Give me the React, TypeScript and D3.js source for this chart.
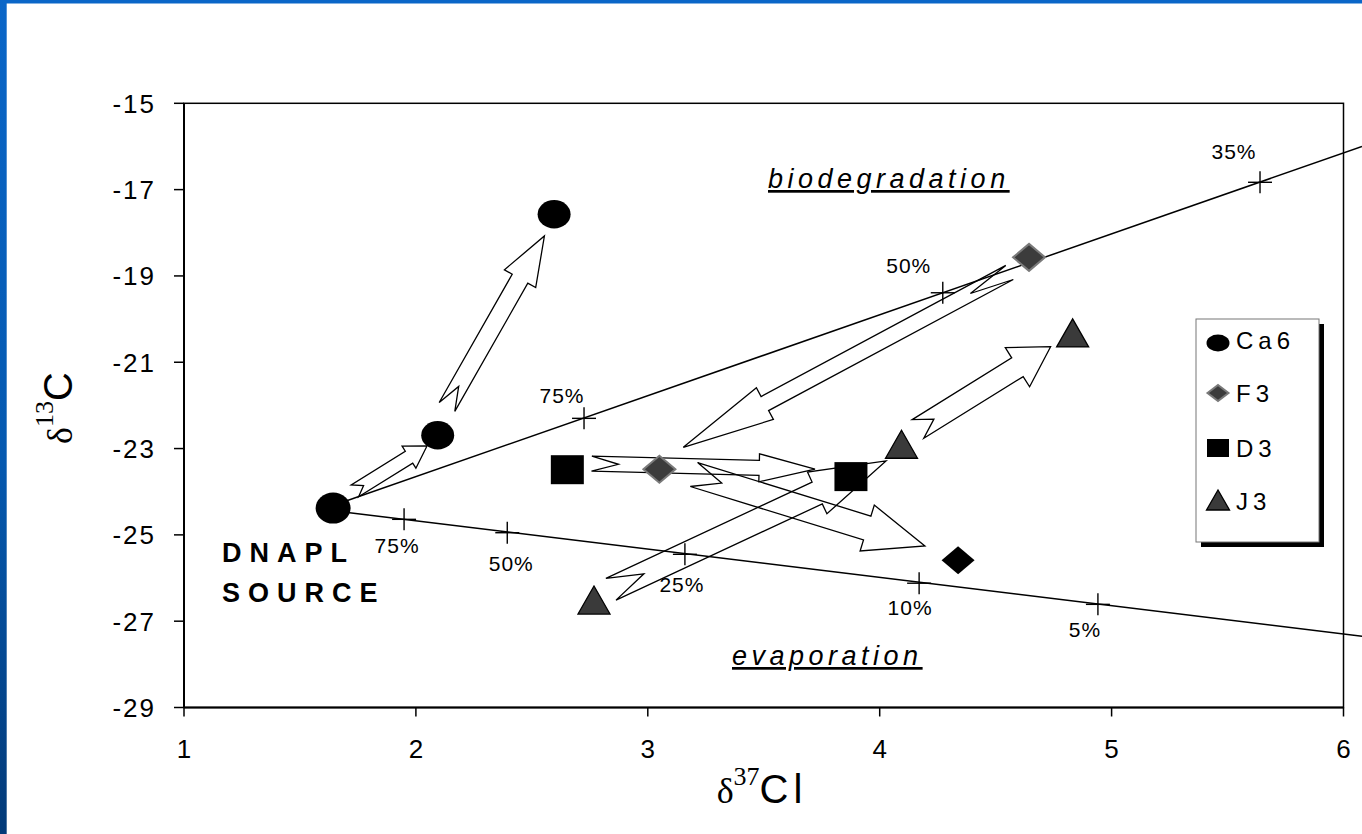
import React from 'react';
import * as d3 from 'd3';

// sample points (δ37Cl, δ13C)
const ca6 = [[1.643, -24.38], [2.094, -22.69], [2.596, -17.57]];
const f3 = [[4.644, -18.57], [3.05, -23.48]];
const d3pts = [[2.653, -23.49], [3.876, -23.65]];
const j3 = [[4.832, -20.32], [4.094, -22.9], [2.768, -26.51]];
const blackDiamond = [[4.338, -25.59]];

// model lines from the DNAPL source
const bioLine = [[1.643, -24.32], [6.08, -16.0]];
const evapLine = [[1.643, -24.44], [6.08, -27.35]];

// percent marks on the lines
const bioMarks = [[2.725, -22.3], [4.272, -19.39], [5.64, -16.83]];
const bioLabels = ['75%', '50%', '35%'];
const evapMarks = [[1.949, -24.64], [2.394, -24.95], [3.16, -25.45], [4.17, -26.12], [4.941, -26.61]];
const evapLabels = ['75%', '50%', '25%', '10%', '5%'];

// block arrows: tail -> tip
const arrowFrom = [[1.737, -23.98], [2.134, -22.035], [4.56, -18.92], [4.165, -22.545], [2.841, -26.26], [2.758, -23.35], [3.199, -23.603]];
const arrowTo = [[2.048, -22.94], [2.554, -18.074], [3.153, -22.97], [4.737, -20.64], [4.027, -23.286], [3.721, -23.478], [4.195, -25.255]];

const xTicks = [1, 2, 3, 4, 5, 6];
const yTicks = [-15, -17, -19, -21, -23, -25, -27, -29];
const legendNames = ['Ca6', 'F3', 'D3', 'J3'];

// styling (px)
const arrowHead = [13, 18, 18, 23, 23, 14, 24];
const arrowShaft = [7, 9, 8, 11, 12, 7.5, 12.5];
const bioNudge = [[-22, -15], [-34, -20], [-26, -23]];
const evapNudge = [[-7, 34], [4, 38], [-3, 38], [-9, 32], [-13, 33]];

const SANS = 'Arial, "Liberation Sans", sans-serif';
const SERIF = '"Times New Roman", "Liberation Serif", serif';

function arrowPath(tx: number, ty: number, hx: number, hy: number, hw: number, sw: number) {
  const dx = hx - tx, dy = hy - ty;
  const L = Math.hypot(dx, dy);
  const ux = dx / L, uy = dy / L;
  const nx = -uy, ny = ux;
  const hl = L * 0.25, nd = L * 0.12;
  const bx = tx + ux * (L - hl), by = ty + uy * (L - hl);
  const pts = [
    [tx + nx * sw, ty + ny * sw],
    [bx + nx * sw, by + ny * sw],
    [bx + nx * hw, by + ny * hw],
    [hx, hy],
    [bx - nx * hw, by - ny * hw],
    [bx - nx * sw, by - ny * sw],
    [tx - nx * sw, ty - ny * sw],
    [tx + ux * nd, ty + uy * nd],
  ];
  return 'M' + pts.map(p => p[0].toFixed(1) + ',' + p[1].toFixed(1)).join('L') + 'Z';
}

function Ellipse({ cx, cy, rx, ry }: any) {
  return <ellipse cx={cx} cy={cy} rx={rx} ry={ry} fill="#000" />;
}
function Diamond({ cx, cy, w, h, fill, stroke }: any) {
  return <path d={`M${cx - w},${cy}L${cx},${cy - h}L${cx + w},${cy}L${cx},${cy + h}Z`} fill={fill} stroke={stroke} strokeWidth={stroke === 'none' ? 0 : 2} />;
}
function Square({ cx, cy, w, h }: any) {
  return <rect x={cx - w} y={cy - h} width={w * 2} height={h * 2} fill="#000" />;
}
function Triangle({ cx, cy, w, h }: any) {
  return <path d={`M${cx - w},${cy + h}L${cx},${cy - h}L${cx + w},${cy + h}Z`} fill="#3a3a3a" stroke="#000" strokeWidth={1.3} />;
}

function Cross({ cx, cy }: any) {
  return (
    <g stroke="#000" strokeWidth={1.4}>
      <line x1={cx - 12} x2={cx + 12} y1={cy} y2={cy} />
      <line x1={cx} x2={cx} y1={cy - 11} y2={cy + 11} />
    </g>
  );
}

export default function App() {
  const W = 1362, H = 834;
  const x = d3.scaleLinear().domain([1, 6]).range([184, 1343.5]);
  const y = d3.scaleLinear().domain([-29, -15]).range([707.5, 103.3]);
  const line = d3.line<number[]>().x(d => x(d[0])).y(d => y(d[1]));

  const legendY = [343, 393, 448, 500];
  const legendBase = [349, 402, 457, 510];

  return (
    <div style={{ position: 'absolute', left: 0, top: 0 }}>
      <svg width={W} height={H} style={{ display: 'block', background: '#fff' }}>
        <defs>
          <linearGradient id="edge" x1="0" y1="0" x2="0" y2="1">
            <stop offset="0" stopColor="#0a66c8" />
            <stop offset="0.55" stopColor="#0559b0" />
            <stop offset="1" stopColor="#033a78" />
          </linearGradient>
        </defs>
        <rect x={0} y={0} width={W} height={H} fill="#fff" />
        <rect x={0} y={0} width={W} height={3.5} fill="#0a66c8" />
        <rect x={0} y={0} width={6.7} height={H} fill="url(#edge)" />

        {/* plot frame */}
        <rect x={x(1)} y={y(-15)} width={x(6) - x(1)} height={y(-29) - y(-15)} fill="none" stroke="#000" strokeWidth={1.5} />
        <line x1={x(1)} x2={x(1)} y1={y(-15)} y2={y(-29)} stroke="#000" strokeWidth={2} />
        <line x1={x(1)} x2={x(6)} y1={y(-29)} y2={y(-29)} stroke="#000" strokeWidth={2} />

        {yTicks.map(t => (
          <g key={'y' + t}>
            <line x1={x(1) - 10} x2={x(1)} y1={y(t)} y2={y(t)} stroke="#000" strokeWidth={1.5} />
            <text x={156} y={y(t) + 9.5} textAnchor="end" fontFamily={SANS} fontSize={26} letterSpacing={2}>{t}</text>
          </g>
        ))}
        {xTicks.map(t => (
          <g key={'x' + t}>
            <line x1={x(t)} x2={x(t)} y1={y(-29)} y2={y(-29) + 9} stroke="#000" strokeWidth={1.5} />
            <text x={x(t)} y={758} textAnchor="middle" fontFamily={SANS} fontSize={26}>{t}</text>
          </g>
        ))}

        {/* axis titles */}
        <text x={762} y={803} textAnchor="middle" fill="#000">
          <tspan fontFamily={SERIF} fontSize={36}>δ</tspan>
          <tspan fontFamily={SERIF} fontSize={26} dy={-18}>37</tspan>
          <tspan fontFamily={SANS} fontSize={40} dy={18} letterSpacing={5}>Cl</tspan>
        </text>
        <text transform="translate(72,408) rotate(-90)" textAnchor="middle" fill="#000">
          <tspan fontFamily={SERIF} fontSize={36}>δ</tspan>
          <tspan fontFamily={SERIF} fontSize={26} dy={-19}>13</tspan>
          <tspan fontFamily={SANS} fontSize={40} dy={19}>C</tspan>
        </text>

        {/* model lines */}
        <path d={line(bioLine) || ''} fill="none" stroke="#000" strokeWidth={1.5} />
        <path d={line(evapLine) || ''} fill="none" stroke="#000" strokeWidth={1.5} />
        {bioMarks.map((m, i) => (
          <g key={'b' + i}>
            <Cross cx={x(m[0])} cy={y(m[1])} />
            <text x={x(m[0]) + bioNudge[i][0]} y={y(m[1]) + bioNudge[i][1]} textAnchor="middle" fontFamily={SANS} fontSize={21} letterSpacing={1}>{bioLabels[i]}</text>
          </g>
        ))}
        {evapMarks.map((m, i) => (
          <g key={'e' + i}>
            <Cross cx={x(m[0])} cy={y(m[1])} />
            <text x={x(m[0]) + evapNudge[i][0]} y={y(m[1]) + evapNudge[i][1]} textAnchor="middle" fontFamily={SANS} fontSize={21} letterSpacing={1}>{evapLabels[i]}</text>
          </g>
        ))}

        {/* arrows */}
        {arrowFrom.map((a, i) => (
          <path key={'a' + i}
            d={arrowPath(x(a[0]), y(a[1]), x(arrowTo[i][0]), y(arrowTo[i][1]), arrowHead[i], arrowShaft[i])}
            fill="none" stroke="#000" strokeWidth={1.3} strokeLinejoin="miter" />
        ))}

        {/* points */}
        {ca6.map((p, i) => <Ellipse key={'c' + i} cx={x(p[0])} cy={y(p[1])} rx={i === 0 ? 17.5 : 16.5} ry={i === 0 ? 15.5 : 14.2} />)}
        {d3pts.map((p, i) => <Square key={'s' + i} cx={x(p[0])} cy={y(p[1])} w={16.5} h={14.5} />)}
        {f3.map((p, i) => <Diamond key={'f' + i} cx={x(p[0])} cy={y(p[1])} w={16} h={13.5} fill="#3c3c3c" stroke="#7a7a7a" />)}
        {blackDiamond.map((p, i) => <Diamond key={'k' + i} cx={x(p[0])} cy={y(p[1])} w={16.5} h={14} fill="#000" stroke="none" />)}
        {j3.map((p, i) => <Triangle key={'t' + i} cx={x(p[0])} cy={y(p[1])} w={16} h={14} />)}

        {/* annotations */}
        <text x={768} y={188} fontFamily={SANS} fontSize={27} fontStyle="italic" letterSpacing={4.5} textDecoration="underline">biodegradation</text>
        <text x={732} y={665} fontFamily={SANS} fontSize={27} fontStyle="italic" letterSpacing={4.5} textDecoration="underline">evaporation</text>
        <text x={222} y={562} fontFamily={SANS} fontSize={27} fontWeight="bold" letterSpacing={8}>DNAPL</text>
        <text x={222} y={602} fontFamily={SANS} fontSize={27} fontWeight="bold" letterSpacing={8}>SOURCE</text>

        {/* legend */}
        <rect x={1201} y={324} width={123} height={223} fill="#000" />
        <rect x={1196} y={319} width={123} height={223} fill="#fff" stroke="#777" strokeWidth={1} />
        {legendNames.map((n, i) => {
          const cy = legendY[i], cx = 1218;
          return (
            <g key={n}>
              {i === 0 && <ellipse cx={cx} cy={cy} rx={11.5} ry={8.5} fill="#000" />}
              {i === 1 && <Diamond cx={cx} cy={cy} w={10.5} h={8} fill="#3c3c3c" stroke="#7a7a7a" />}
              {i === 2 && <rect x={cx - 11} y={cy - 9} width={22} height={18} fill="#000" />}
              {i === 3 && <Triangle cx={cx} cy={cy} w={11.5} h={10} />}
              <text x={1236} y={legendBase[i]} fontFamily={SANS} fontSize={24} letterSpacing={5}>{n}</text>
            </g>
          );
        })}
      </svg>
    </div>
  );
}
